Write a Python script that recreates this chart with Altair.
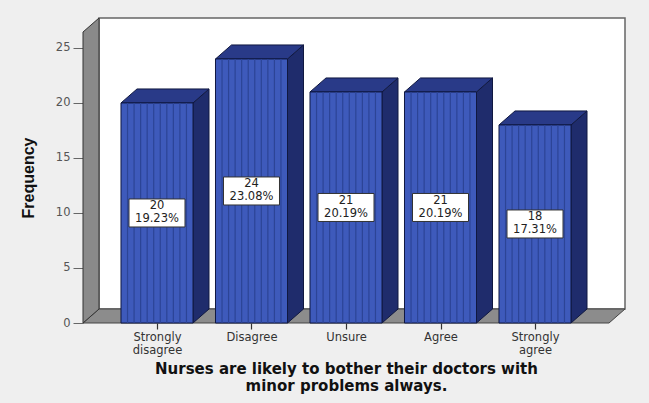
import json
import altair as alt
import pandas as pd

# ---- data ----
categories = ["Strongly disagree", "Disagree", "Unsure", "Agree", "Strongly agree"]
x_tick_labels = [["Strongly", "disagree"], ["Disagree"], ["Unsure"], ["Agree"], ["Strongly", "agree"]]
counts = [20, 24, 21, 21, 18]
percents = ["19.23%", "23.08%", "20.19%", "20.19%", "17.31%"]
y_ticks = [0, 5, 10, 15, 20, 25]
x_title = ["Nurses are likely to bother their doctors with", "minor problems always."]
y_title = "Frequency"

# ---- geometry (styles) ----
X0, X1 = -0.783, 4.783          # x domain (category index units)
Y0, Y1 = 0.0, 26.45             # y domain
PLOT_W, PLOT_H = 526, 291
DX = 16 / (PLOT_W / (X1 - X0))  # depth in x units (16 px)
DY = 14 / (PLOT_H / (Y1 - Y0))  # depth in y units (14 px)
HW = 0.381                      # bar half width

xs = alt.Scale(domain=[X0, X1], nice=False, zero=False)
ys = alt.Scale(domain=[Y0, Y1], nice=False, zero=False)

bars = pd.DataFrame({
    "cat": categories,
    "i": list(range(len(categories))),
    "count": counts,
    "pct": percents,
})
bars["left"] = bars["i"] - HW
bars["right"] = bars["i"] + HW
bars["mid"] = bars["count"] / 2
bars["label"] = bars["count"].astype(str) + "\n" + bars["pct"]

side_rows, top_rows, stripe_rows = [], [], []
N_STRIPES = 11
for rec in bars.to_dict("records"):
    c, l, rt, v = rec["cat"], rec["left"], rec["right"], rec["count"]
    side_rows.append({"cat": c, "x": rt, "y": 0.0, "y2": v})
    side_rows.append({"cat": c, "x": rt + DX, "y": DY, "y2": v + DY})
    top_rows.append({"cat": c, "y": v, "x": l, "x2": rt})
    top_rows.append({"cat": c, "y": v + DY, "x": l + DX, "x2": rt + DX})
    step = (rt - l) / N_STRIPES
    for k in range(1, N_STRIPES):
        stripe_rows.append({"cat": c, "x": l + k * step, "y": 0.0, "y2": v})
side_df = pd.DataFrame(side_rows)
top_df = pd.DataFrame(top_rows)
stripe_df = pd.DataFrame(stripe_rows)

# walls
back_df = pd.DataFrame([{"x": X0 + DX, "x2": X1 + DX, "y": DY, "y2": Y1 + DY}])
left_df = pd.DataFrame([
    {"w": "left", "x": X0, "y": Y0, "y2": Y1},
    {"w": "left", "x": X0 + DX, "y": Y0 + DY, "y2": Y1 + DY},
])
floor_df = pd.DataFrame([
    {"w": "floor", "y": Y0, "x": X0, "x2": X1},
    {"w": "floor", "y": Y0 + DY, "x": X0 + DX, "x2": X1 + DX},
])

label_expr = json.dumps(x_tick_labels) + "[datum.value]"

x_axis = alt.Axis(
    values=list(range(len(categories))), labelExpr=label_expr,
    tickSize=6, tickColor="#333333", tickWidth=1.2, domain=False, grid=False,
    labelFont="DejaVu Sans", labelFontSize=11.5, labelColor="#333333",
    labelLineHeight=13, labelPadding=2,
    title=x_title, titleFont="DejaVu Sans", titleFontSize=15, titleFontWeight="bold",
    titleColor="#111111", titlePadding=6, titleLineHeight=17,
)
y_axis = alt.Axis(
    values=y_ticks, tickSize=10, tickColor="#666666", domain=False, grid=False,
    labelFont="DejaVu Sans", labelFontSize=11.5, labelColor="#555555", labelPadding=3,
    title=y_title, titleFont="Liberation Sans", titleFontSize=16, titleFontWeight="bold",
    titleColor="#111111", titlePadding=19,
)


def X(f):
    return alt.X(f, scale=xs, axis=x_axis)


def Y(f):
    return alt.Y(f, scale=ys, axis=y_axis)


back = alt.Chart(back_df).mark_rect(fill="white", stroke="#666666", strokeWidth=1.5).encode(
    x=X("x:Q"), x2="x2:Q", y=Y("y:Q"), y2="y2:Q",
)
floor = alt.Chart(floor_df).mark_area(orient="horizontal", fill="#8c8c8c", stroke="#444444", strokeWidth=1).encode(
    y=Y("y:Q"), x=X("x:Q"), x2="x2:Q",
)
left = alt.Chart(left_df).mark_area(orient="vertical", fill="#8a8a8a", stroke="#333333", strokeWidth=1).encode(
    x=X("x:Q"), y=Y("y:Q"), y2="y2:Q",
)
side = alt.Chart(side_df).mark_area(orient="vertical", fill="#1f2c6c", stroke="#101840", strokeWidth=1).encode(
    x=X("x:Q"), y=Y("y:Q"), y2="y2:Q", detail="cat:N",
)
top = alt.Chart(top_df).mark_area(orient="horizontal", fill="#293a88", stroke="#101840", strokeWidth=1).encode(
    y=Y("y:Q"), x=X("x:Q"), x2="x2:Q", detail="cat:N",
)
front = alt.Chart(bars).mark_rect(fill="#3e5abb", stroke="#101840", strokeWidth=1).encode(
    x=X("left:Q"), x2="right:Q", y=Y("count:Q"), y2=alt.datum(0),
)
stripes = alt.Chart(stripe_df).mark_rule(color="#2c4496", strokeWidth=1.2).encode(
    x=X("x:Q"), y=Y("y:Q"), y2="y2:Q",
)
box = alt.Chart(bars).mark_rect(width=56, height=28, fill="white", stroke="#333333", strokeWidth=1).encode(
    x=X("i:Q"), y=Y("mid:Q"),
)
text = alt.Chart(bars).mark_text(
    font="DejaVu Sans", fontSize=11.5, color="#222222", lineBreak="\n",
    baseline="middle", align="center", lineHeight=13, dy=-6.5,
).encode(
    x=X("i:Q"), y=Y("mid:Q"), text="label:N",
)

chart = alt.layer(back, floor, left, side, top, front, stripes, box, text).properties(
    width=PLOT_W, height=PLOT_H,
    autosize=alt.AutoSizeParams(type="none"),
    padding={"left": 83, "top": 32, "right": 649 - 83 - PLOT_W, "bottom": 403 - 32 - PLOT_H},
    background="#efefef",
).configure_view(stroke=None)

chart.save("out.html", embed_options={"renderer": "svg", "actions": False})
